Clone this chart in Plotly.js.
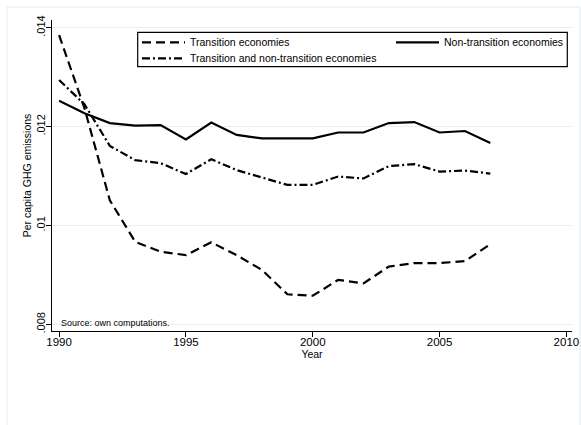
<!DOCTYPE html>
<html>
<head>
<meta charset="utf-8">
<script src="https://cdn.plot.ly/plotly-3.0.1.min.js"></script>
<style>html,body{margin:0;padding:0;background:#fff;}#chart{width:581px;height:425px;}</style>
</head>
<body>
<div id="chart"></div>
<script>
var years = [1990,1991,1992,1993,1994,1995,1996,1997,1998,1999,2000,2001,2002,2003,2004,2005,2006,2007];
var transition = [0.01385,0.01237,0.01051,0.00967,0.00947,0.00940,0.00966,0.00940,0.00910,0.00861,0.00858,0.00890,0.00883,0.00917,0.00924,0.00924,0.00928,0.00962];
var nonTransition = [0.01252,0.01227,0.01207,0.01202,0.01203,0.01174,0.01208,0.01183,0.01176,0.01176,0.01176,0.01188,0.01188,0.01207,0.01209,0.01188,0.01191,0.01167];
var both = [0.01294,0.01245,0.01161,0.01132,0.01126,0.01104,0.01134,0.01112,0.01097,0.01082,0.01082,0.01099,0.01095,0.01120,0.01124,0.01109,0.01111,0.01105];
var seriesNames = ['Transition economies','Non-transition economies','Transition and non-transition economies'];
var yTickVals = [0.008,0.010,0.012,0.014];
var yTickText = ['.008','.01','.012','.014'];
var xTickVals = [1990,1995,2000,2005,2010];

var font = 'Liberation Sans, Arial, Helvetica, sans-serif';
var traces = [
  {x: years, y: transition, name: seriesNames[0], type:'scatter', mode:'lines', line:{color:'#000', width:2.2, dash:'9px,5px'}, legend:'legend'},
  {x: years, y: nonTransition, name: seriesNames[1], type:'scatter', mode:'lines', line:{color:'#000', width:2.2}, legend:'legend2'},
  {x: years, y: both, name: seriesNames[2], type:'scatter', mode:'lines', line:{color:'#000', width:2.2, dash:'8px,3px,2px,3px'}, legend:'legend3'}
];
function pxX(p){ return (p-52)/520; }
function pxY(p){ return (331-p)/311; }
var legCommon = {bgcolor:'rgba(0,0,0,0)', borderwidth:0, itemwidth:43, font:{family:font, size:10.5, color:'#000'}, xanchor:'left', yanchor:'middle', orientation:'v', itemclick:false};
var layout = {
  width:581, height:425,
  margin:{l:52, r:9, t:20, b:94},
  paper_bgcolor:'#fff', plot_bgcolor:'#fff',
  font:{family:font, color:'#000'},
  showlegend:true,
  xaxis:{range:[1989.72,2010.22], tickvals:xTickVals, ticks:'outside', ticklen:5, tickwidth:1, tickcolor:'#000',
         showline:true, linecolor:'#000', linewidth:1.2, showgrid:false, zeroline:false, ticklabelstandoff:-5,
         tickfont:{family:font, size:11.5, color:'#000'},
         title:{text:'Year', font:{family:font, size:10.5, color:'#000'}, standoff:2}},
  yaxis:{range:[0.007867,0.014154], tickvals:yTickVals, ticktext:yTickText, ticks:'outside', ticklen:5, tickwidth:1, tickcolor:'#000',
         showline:true, linecolor:'#000', linewidth:1.2, showgrid:true, gridcolor:'#e6eff1', gridwidth:1, zeroline:false, ticklabelstandoff:-4,
         tickangle:-90, tickfont:{family:font, size:11, color:'#000'},
         title:{text:'Per capita GHG emissions', font:{family:font, size:10.5, color:'#000'}, standoff:1}},
  legend: Object.assign({}, legCommon, {x:pxX(137), y:pxY(42.3)}),
  legend2: Object.assign({}, legCommon, {x:pxX(391), y:pxY(42.3)}),
  legend3: Object.assign({}, legCommon, {x:pxX(137), y:pxY(58.3)}),
  shapes:[
    {type:'rect', xref:'paper', yref:'paper', x0:pxX(7), x1:pxX(580), y0:pxY(7), y1:pxY(440), line:{color:'#e3ecef', width:1}, fillcolor:'rgba(0,0,0,0)', layer:'below'},
    {type:'rect', xref:'paper', yref:'paper', x0:pxX(137.7), x1:pxX(567.3), y0:pxY(32.3), y1:pxY(66.7), line:{color:'#000', width:1.2}, fillcolor:'#fff', layer:'above'}
  ],
  annotations:[
    {text:'Source: own computations.', xref:'paper', yref:'paper', x:pxX(59), y:pxY(323.3), xanchor:'left', yanchor:'middle', showarrow:false, font:{family:font, size:9, color:'#000'}}
  ]
};
Plotly.newPlot('chart', traces, layout, {displayModeBar:false, staticPlot:true});
</script>
</body>
</html>
